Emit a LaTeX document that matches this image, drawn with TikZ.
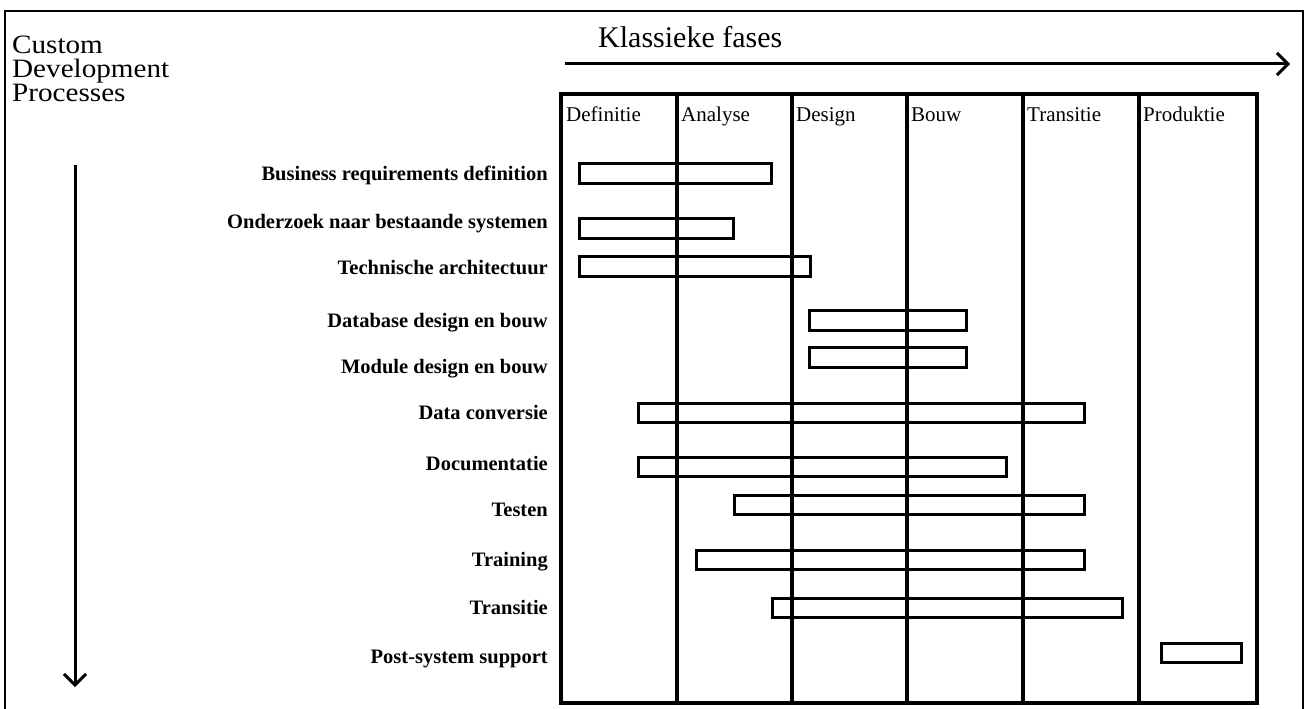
\documentclass[tikz,border=0pt]{standalone}
\usepackage{fontspec}
\setmainfont{Liberation Serif}
\newfontfamily\wideserif[FakeStretch=1.1]{Liberation Serif}
\usetikzlibrary{arrows.meta}

\tikzset{
  frameline/.style={line width=2.2pt},
  gridline/.style={line width=3.2pt},
  bar/.style={draw, line width=3pt, rectangle, inner sep=0pt, outer sep=0pt},
  proclabel/.style={anchor=base east, inner sep=0pt, font=\fontsize{20.5}{24}\selectfont\bfseries},
  phase/.style={anchor=base west, inner sep=0pt, font=\fontsize{21}{24}\selectfont},
  title/.style={anchor=base west, inner sep=0pt, font=\wideserif\fontsize{26.5}{28}\selectfont},
  flow/.style={line width=3pt, -{Straight Barb[length=11pt, width=22pt, line width=3pt]}},
}

% one bar of the schedule: name, left, top, right, bottom
\newcommand\ganttbar[5]{%
  \node[bar, minimum width={#4-#2}, minimum height={#5-#3}] (#1)
    at ({(#2+#4)/2},{(#3+#5)/2}) {};}

\begin{document}
\begin{tikzpicture}[x=1pt, y=-1pt]
  \useasboundingbox (0,0) rectangle (1306,709);
  \clip (0,0) rectangle (1306,709);
  \fill[white] (0,0) rectangle (1306,709);

  % outer frame, open at the bottom edge of the page
  \draw[frameline] (5,720) -- (5,11) -- (1303,11) -- (1303,720);

  % left heading and its downward arrow
  \node[title] (heading1) at (12,54) {Custom};
  \node[title] (heading2) at (12,77.5) {Development};
  \node[title] (heading3) at (12,101) {Processes};
  \coordinate (downstart) at (75,165);
  \coordinate (downend) at (75,687);
  \draw[flow] (downstart) -- (downend);

  % top heading and its arrow to the right
  \node[title, font=\fontsize{30}{32}\selectfont] (phasestitle) at (598,48) {Klassieke fases};
  \coordinate (rightstart) at (565,64);
  \coordinate (rightend) at (1290,64);
  \draw[flow] (rightstart) -- (rightend);

  % the phase table
  \node[draw, gridline, rectangle, inner sep=0pt, minimum width=696, minimum height=609]
    (table) at (909,398.5) {};
  \foreach \x in {677,792,907,1023,1139}
    \draw[gridline] (\x,94) -- (\x,703);

  \node[phase] (ph1) at (566,121) {Definitie};
  \node[phase] (ph2) at (681,121) {Analyse};
  \node[phase] (ph3) at (796,121) {Design};
  \node[phase] (ph4) at (911,121) {Bouw};
  \node[phase] (ph5) at (1027,121) {Transitie};
  \node[phase] (ph6) at (1143,121) {Produktie};

  % process names
  \node[proclabel] (l1)  at (548,180) {Business requirements definition};
  \node[proclabel] (l2)  at (548,228) {Onderzoek naar bestaande systemen};
  \node[proclabel] (l3)  at (548,274) {Technische architectuur};
  \node[proclabel] (l4)  at (548,327) {Database design en bouw};
  \node[proclabel] (l5)  at (548,373) {Module design en bouw};
  \node[proclabel] (l6)  at (548,419) {Data conversie};
  \node[proclabel] (l7)  at (548,470) {Documentatie};
  \node[proclabel] (l8)  at (548,516) {Testen};
  \node[proclabel] (l9)  at (548,566) {Training};
  \node[proclabel] (l10) at (548,614) {Transitie};
  \node[proclabel] (l11) at (548,663) {Post-system support};

  % bars across the phases
  \ganttbar{b1}{579}{163}{771}{183}
  \ganttbar{b2}{579}{218}{733}{238}
  \ganttbar{b3}{579}{256}{810}{276}
  \ganttbar{b4}{809}{310}{966}{330}
  \ganttbar{b5}{809}{347}{966}{367}
  \ganttbar{b6}{638}{403}{1084}{422}
  \ganttbar{b7}{638}{457}{1006}{476}
  \ganttbar{b8}{734}{495}{1084}{514}
  \ganttbar{b9}{696}{550}{1084}{569}
  \ganttbar{b10}{772}{598}{1122}{617}
  \ganttbar{b11}{1161}{643}{1241}{662}
\end{tikzpicture}
\end{document}
